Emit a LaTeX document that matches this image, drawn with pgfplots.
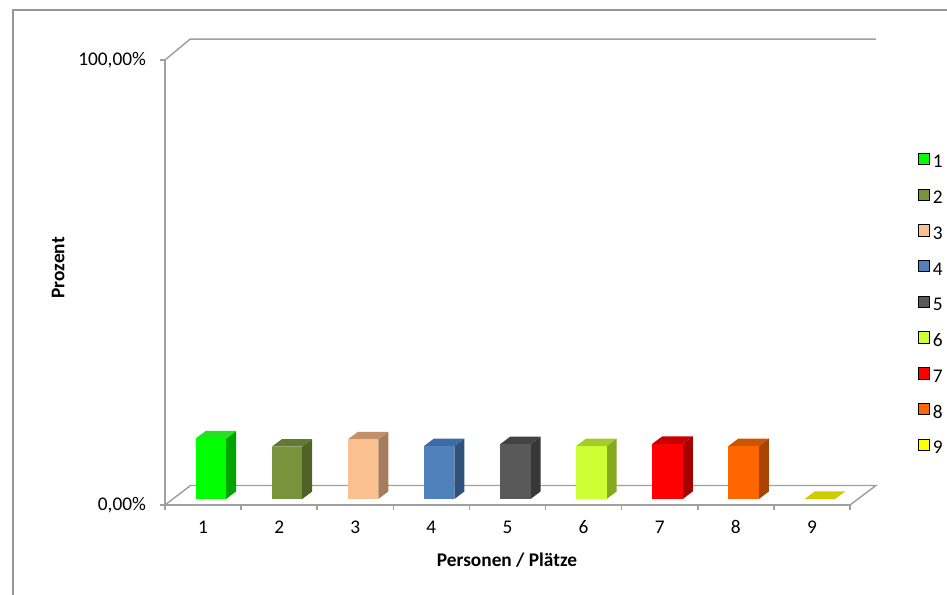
\documentclass[border=0pt]{standalone}
\usepackage{pgfplots}
\pgfplotsset{compat=1.18}
\usepackage{pgfplotstable}
\usepackage{fontspec}
\setmainfont{Carlito}

\definecolor{axgray}{RGB}{160,160,160}
\definecolor{frgray}{RGB}{150,150,150}
\definecolor{cA}{HTML}{00FF00}\definecolor{cAs}{HTML}{00A600}\definecolor{cAt}{HTML}{22E022}
\definecolor{cB}{HTML}{77933C}\definecolor{cBs}{HTML}{4F6228}\definecolor{cBt}{HTML}{627A30}
\definecolor{cC}{HTML}{FAC090}\definecolor{cCs}{HTML}{A67C5A}\definecolor{cCt}{HTML}{C4906A}
\definecolor{cD}{HTML}{4F81BD}\definecolor{cDs}{HTML}{2F527C}\definecolor{cDt}{HTML}{3D6BA5}
\definecolor{cE}{HTML}{595959}\definecolor{cEs}{HTML}{383838}\definecolor{cEt}{HTML}{424242}
\definecolor{cF}{HTML}{CCFF33}\definecolor{cFs}{HTML}{88A820}\definecolor{cFt}{HTML}{A6CC2A}
\definecolor{cG}{HTML}{FF0000}\definecolor{cGs}{HTML}{A60000}\definecolor{cGt}{HTML}{C80000}
\definecolor{cH}{HTML}{FF6600}\definecolor{cHs}{HTML}{A84400}\definecolor{cHt}{HTML}{CC5500}
\definecolor{cI}{HTML}{FFFF00}\definecolor{cIs}{HTML}{A6A600}\definecolor{cIt}{HTML}{CCCC00}

\pgfplotstableread{
fx fy fv
0 1.35 0
0.4 1.35 0
0.4 1.35 1
0 1.35 1
}\frontface
\pgfplotstableread{
fx fy fv
0.4 1.35 0
0.531 3.04 0
0.531 3.04 1
0.4 1.35 1
}\sideface
\pgfplotstableread{
fx fy fv
0 1.35 1
0.4 1.35 1
0.531 3.04 1
0.131 3.04 1
}\topface

\newcommand\tdbar[5]{%
\addplot[fill=#4,draw=none,forget plot] table[x expr=#1+\thisrow{fx},y expr=\thisrow{fy}+\thisrow{fv}*#2]{\sideface};
\addplot[fill=#5,draw=none,forget plot] table[x expr=#1+\thisrow{fx},y expr=\thisrow{fy}+\thisrow{fv}*#2]{\topface};
\addplot[fill=#3,draw=none,forget plot] table[x expr=#1+\thisrow{fx},y expr=\thisrow{fy}+\thisrow{fv}*#2]{\frontface};
}
\newcommand\lgt[1]{\hspace{2.5pt}\raisebox{2pt}{#1}}

\begin{document}
\begin{tikzpicture}
\path[use as bounding box] (0,0) rectangle (710.25pt,-446.25pt);
\draw[frgray,line width=0.8pt] (9.75pt,-446.25pt) -- (9.75pt,-7.5pt) -- (710.25pt,-7.5pt);
\begin{axis}[
  at={(123.75pt,-378.75pt)}, anchor=south west,
  scale only axis, width=513.75pt, height=333.75pt,
  xmin=0, xmax=9, ymin=0, ymax=100, clip=false,
  axis lines*=left,
  axis line style={axgray,line width=1.1pt},
  tick style={axgray,line width=1.1pt},
  tick align=outside, major tick length=3.75pt,
  xtick={0,1,...,9}, x tick label as interval, xticklabels={1,2,3,4,5,6,7,8,9},
  ytick={0,100}, yticklabels={{0,00\%},{100,00\%}},
  ticklabel style={font=\fontsize{14.5}{17}\selectfont},
  xticklabel style={anchor=center, yshift=-13pt},
  yticklabel style={anchor=east, xshift=-7pt},
  xlabel={Personen / Plätze}, ylabel={Prozent},
  label style={font=\fontsize{14.5}{17}\selectfont\bfseries},
  xlabel style={at={(axis description cs:0.4993,-0.1236)}, anchor=center},
  ylabel style={at={(axis description cs:-0.156,0.533)}, anchor=center},
  legend style={draw=none, fill=none, at={(1.0925,0.798)}, anchor=north west,
    font=\fontsize{14.5}{17}\selectfont, row sep=13.5pt,
    nodes={inner sep=0pt, text height=10pt, text depth=0pt}},
  legend cell align=left,
  legend image code/.code={\fill[#1] (0pt,-0.5pt) rectangle (8.6pt,8.1pt);},
]
\addplot[axgray,line width=1.1pt,forget plot] coordinates {(0,100) (0.33,104.7) (9.34,104.7)};
\addplot[axgray,line width=1.1pt,forget plot] coordinates {(0,0) (0.335,4.38) (9.34,4.38) (9,0)};
\tdbar{0.403}{13.6}{cA}{cAs}{cAt}
\tdbar{1.403}{11.75}{cB}{cBs}{cBt}
\tdbar{2.403}{13.4}{cC}{cCs}{cCt}
\tdbar{3.403}{11.9}{cD}{cDs}{cDt}
\tdbar{4.403}{12.3}{cE}{cEs}{cEt}
\tdbar{5.403}{11.9}{cF}{cFs}{cFt}
\tdbar{6.403}{12.4}{cG}{cGs}{cGt}
\tdbar{7.403}{11.9}{cH}{cHs}{cHt}
\tdbar{8.403}{0}{cI}{cIs}{cIt}
\addlegendimage{fill=cA}\addlegendentry{\lgt{1}}
\addlegendimage{fill=cB}\addlegendentry{\lgt{2}}
\addlegendimage{fill=cC}\addlegendentry{\lgt{3}}
\addlegendimage{fill=cD}\addlegendentry{\lgt{4}}
\addlegendimage{fill=cE}\addlegendentry{\lgt{5}}
\addlegendimage{fill=cF}\addlegendentry{\lgt{6}}
\addlegendimage{fill=cG}\addlegendentry{\lgt{7}}
\addlegendimage{fill=cH}\addlegendentry{\lgt{8}}
\addlegendimage{fill=cI}\addlegendentry{\lgt{9}}
\end{axis}
\end{tikzpicture}
\end{document}
